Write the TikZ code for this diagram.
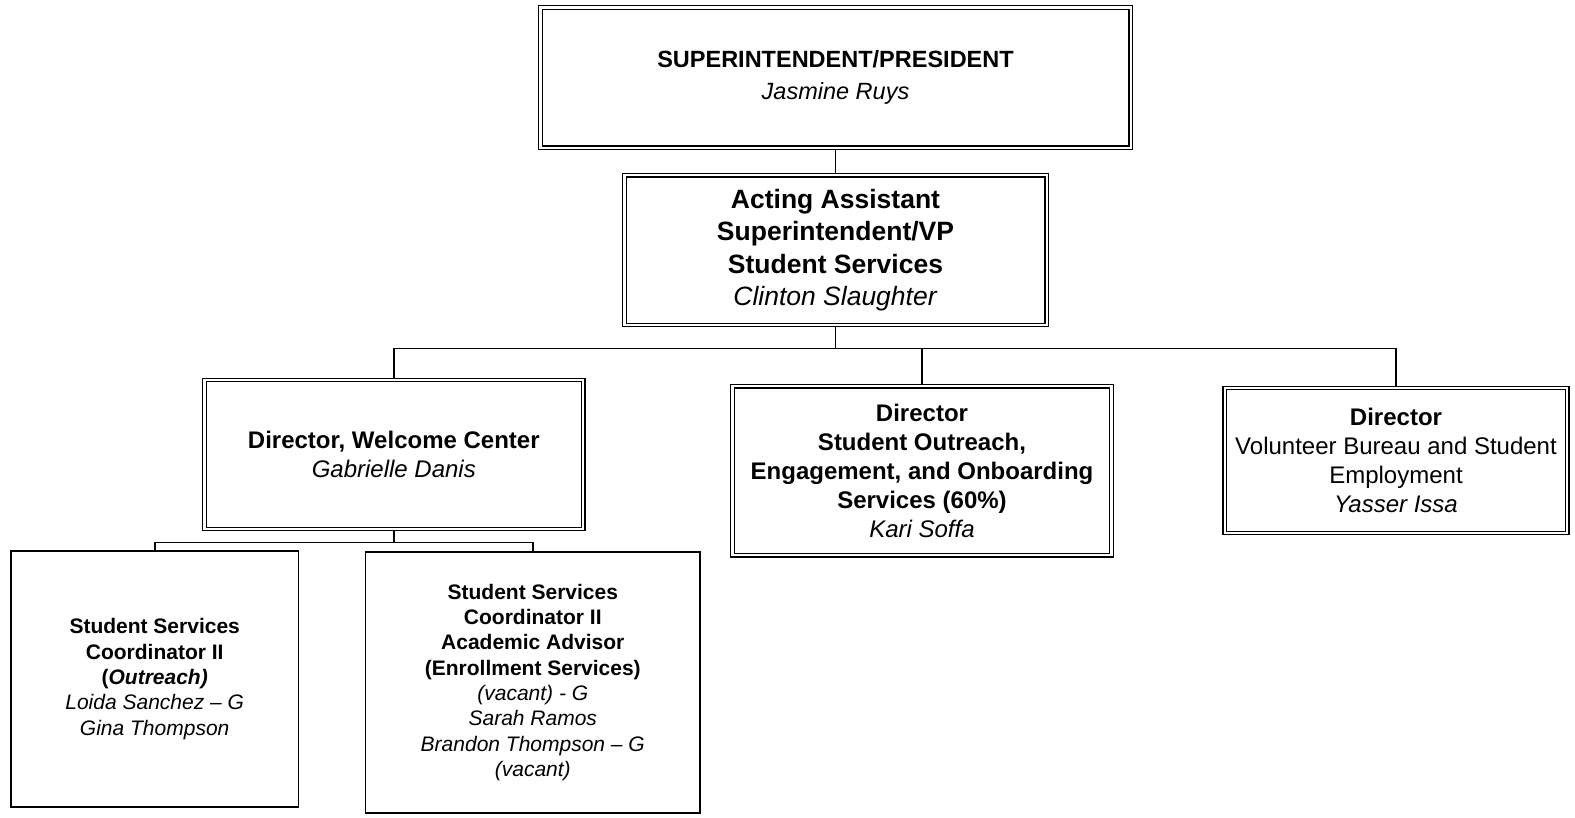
\documentclass[tikz,border=0pt]{standalone}
\usepackage{fontspec}
\setmainfont{Liberation Sans}
\begin{document}
\begin{tikzpicture}[x=1pt,y=-1pt,
  dbox/.style={draw, double, double distance=2.2pt, line width=1.3pt, outer sep=2.4pt, align=center, inner sep=0pt},
  sbox/.style={draw, line width=1.7pt, align=center, inner sep=0pt, outer sep=0.85pt},
  conn/.style={line width=1.6pt},
  ftop/.style={font=\fontsize{23.5}{32}\selectfont},
  fbig/.style={font=\fontsize{26.5}{32.3}\selectfont},
  fmid/.style={font=\fontsize{24}{29}\selectfont},
  fsmall/.style={font=\fontsize{21}{25.3}\selectfont}]
\useasboundingbox (0,0) rectangle (1575,817);

\node[dbox, ftop, minimum width=590.2pt, minimum height=140.2pt] (top) at (835.5,77.5)
  {\textbf{SUPERINTENDENT/PRESIDENT}\\\textit{Jasmine Ruys}};
\node[dbox, fbig, minimum width=422.2pt, minimum height=149.7pt] (avp) at (835.5,250.2)
  {\textbf{Acting Assistant}\\\textbf{Superintendent/VP}\\\textbf{Student Services}\\\textit{Clinton Slaughter}};
\node[dbox, fmid, minimum width=378.8pt, minimum height=148.9pt] (wc) at (393.8,454.5)
  {\textbf{Director, Welcome Center}\\\textit{Gabrielle Danis}};
\node[dbox, fmid, minimum width=378.9pt, minimum height=169pt] (so) at (922,470.6)
  {\textbf{Director}\\\textbf{Student Outreach,}\\\textbf{Engagement, and Onboarding}\\\textbf{Services (60\%)}\\\textit{Kari Soffa}};
\node[dbox, fmid, minimum width=342.7pt, minimum height=144.9pt] (vb) at (1396,460.5)
  {\textbf{Director}\\Volunteer Bureau and Student\\Employment\\\textit{Yasser Issa}};
\node[sbox, fsmall, minimum width=287.6pt, minimum height=255.4pt] (c1) at (154.7,679)
  {\textbf{Student Services}\\\textbf{Coordinator II}\\\textbf{(\textit{Outreach)}}\\\textit{Loida Sanchez – G}\\\textit{Gina Thompson}};
\node[sbox, fsmall, minimum width=334.7pt, minimum height=260.4pt] (c2) at (532.8,682.5)
  {\textbf{Student Services}\\\textbf{Coordinator II}\\\textbf{Academic Advisor}\\\textbf{(Enrollment Services)}\\\textit{(vacant) - G}\\\textit{Sarah Ramos}\\\textit{Brandon Thompson – G}\\\textit{(vacant)}};

\coordinate (bar1) at (0,348.6);
\coordinate (bar2) at (0,542.4);

\draw[conn] (top.south) -- (avp.north);
\draw[conn] (avp.south) -- (avp.south |- bar1);
\draw[conn] (wc.north) |- (vb.north |- bar1) -- (vb.north);
\draw[conn] (so.north) -- (so.north |- bar1);
\draw[conn] (wc.south) -- (wc.south |- bar2);
\draw[conn] (c1.north) |- (c2.north |- bar2) -- (c2.north);
\end{tikzpicture}
\end{document}
